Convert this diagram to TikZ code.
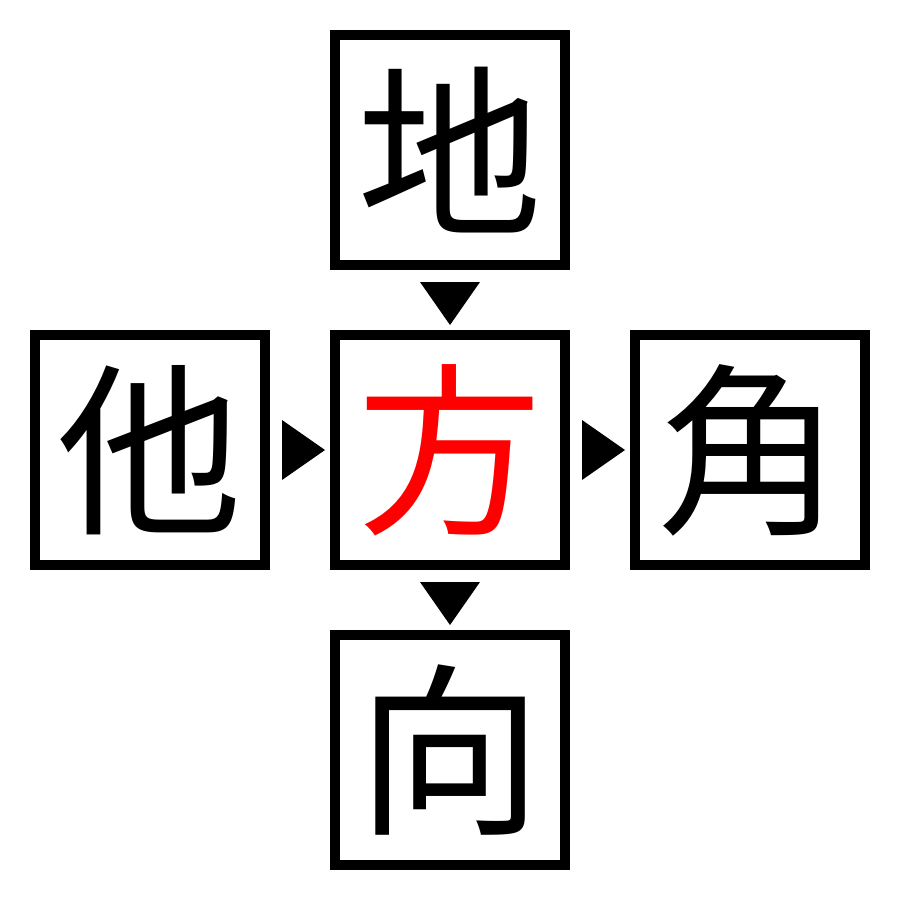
\documentclass[tikz,border=0pt]{standalone}
\usepackage{fontspec}
\newfontfamily\cjk{Noto Sans CJK JP}
\usetikzlibrary{calc}
\begin{document}
\begin{tikzpicture}[x=1pt,y=-1pt,
  charbox/.style={draw=black,line width=10pt,minimum size=230pt,inner sep=0pt,outer sep=0pt,
    font=\cjk\fontsize{185}{185}\selectfont},
  tri/.style={fill=black,draw=none}]
\useasboundingbox (0,0) rectangle (900,900);
\node[charbox] (top) at (450,150) {地};
\node[charbox,text=red] (mid) at (450,450) {方};
\node[charbox] (left) at (150,450) {他};
\node[charbox] (right) at (750,450) {角};
\node[charbox] (bot) at (450,750) {向};
% arrowheads between boxes
\fill[tri] ($(left.east)+(17,-30)$) -- ($(left.east)+(17,30)$) -- ($(left.east)+(60,0)$) -- cycle;
\fill[tri] ($(mid.east)+(17,-30)$) -- ($(mid.east)+(17,30)$) -- ($(mid.east)+(60,0)$) -- cycle;
\fill[tri] ($(top.south)+(-30,17)$) -- ($(top.south)+(30,17)$) -- ($(top.south)+(0,60)$) -- cycle;
\fill[tri] ($(mid.south)+(-30,17)$) -- ($(mid.south)+(30,17)$) -- ($(mid.south)+(0,60)$) -- cycle;
\end{tikzpicture}
\end{document}
